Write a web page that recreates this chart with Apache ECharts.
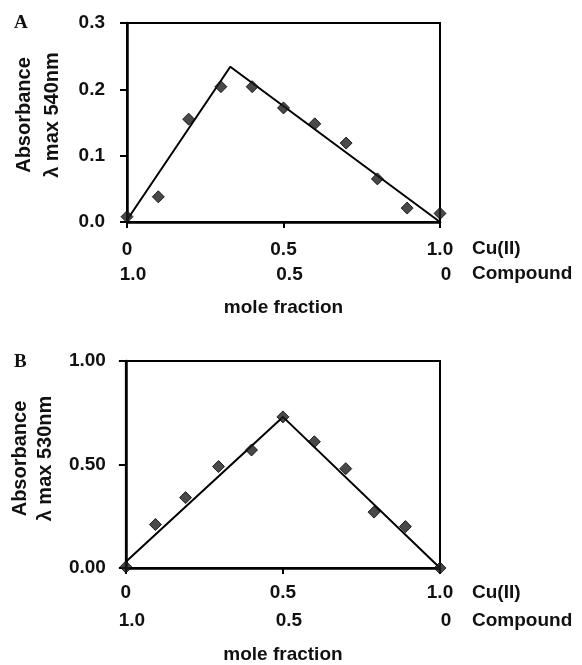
<!DOCTYPE html>
<html>
<head>
<meta charset="utf-8">
<script src="https://cdn.jsdelivr.net/npm/echarts@6/dist/echarts.min.js"></script>
<style>
html,body{margin:0;padding:0;background:#fff;}
#chart{width:582px;height:665px;}
</style>
</head>
<body>
<div id="chart"></div>
<script>
// ---- Data ----
const molFracA = [0, 0.10, 0.197, 0.30, 0.40, 0.50, 0.60, 0.70, 0.80, 0.895, 1.0];
const absA     = [0.008, 0.038, 0.155, 0.204, 0.204, 0.172, 0.148, 0.119, 0.065, 0.021, 0.013];
const fitXA    = [0, 0.33, 1.0];
const fitYA    = [0.003, 0.234, 0];

const molFracB = [0, 0.094, 0.19, 0.295, 0.40, 0.50, 0.60, 0.70, 0.79, 0.89, 1.0];
const absB     = [0.005, 0.21, 0.34, 0.49, 0.57, 0.73, 0.61, 0.48, 0.27, 0.20, 0.0];
const fitXB    = [0, 0.5, 1.0];
const fitYB    = [0.03, 0.73, 0];

const yTicksA = ['0.0', '0.1', '0.2', '0.3'];
const yTicksB = ['0.00', '0.50', '1.00'];
const cuTicks = ['0', '0.5', '1.0'];
const compoundTicks = ['1.0', '0.5', '0'];

const panelLetters = ['A', 'B'];
const yNames = ['Absorbance\nλ max 540nm', 'Absorbance\nλ max 530nm'];
const rowNames = ['Cu(II)', 'Compound'];

// ---- Helpers ----
const FONT = 'Liberation Sans, Arial, sans-serif';
const zip = (xs, ys) => xs.map((x, i) => [x, ys[i]]);
const tickFmt = (labels, interval) => v => labels[Math.round(v / interval)] ?? '';

function xAxes(grid, cfg) {
  // name is pushed down one row height by two leading blank lines
  const rowName = t => '\n\n' + t;
  const nameStyle = { fontFamily: FONT, fontSize: 19, fontWeight: 'bold', color: '#111',
    lineHeight: cfg.rowShift, align: 'left' };
  return [
    { // Cu(II) row
      gridIndex: grid, type: 'value', min: 0, max: 1, interval: 0.5,
      name: rowName(rowNames[0]), nameLocation: 'end', nameGap: 32, nameTextStyle: nameStyle,
      axisLine: { lineStyle: { color: '#000', width: 2.5 } },
      axisTick: { length: 6, lineStyle: { color: '#000', width: 2 } },
      axisLabel: { formatter: tickFmt(cuTicks, 0.5), margin: cfg.rowMargin,
        fontFamily: FONT, fontSize: 19, fontWeight: 'bold', color: '#111' },
      splitLine: { show: false }
    },
    { // Compound row
      gridIndex: grid, type: 'value', min: 0, max: 1, interval: 0.5, position: 'bottom',
      offset: cfg.row2Offset,
      name: rowName(rowNames[1]), nameLocation: 'end', nameGap: 32, nameTextStyle: nameStyle,
      axisLine: { show: false }, axisTick: { show: false },
      axisLabel: { formatter: tickFmt(compoundTicks, 0.5), margin: cfg.rowMargin,
        padding: [0, 0, 0, 12],
        fontFamily: FONT, fontSize: 19, fontWeight: 'bold', color: '#111' },
      splitLine: { show: false }
    },
    { // "mole fraction" title axis
      gridIndex: grid, type: 'value', min: 0, max: 1, position: 'bottom', offset: 0,
      name: 'mole fraction', nameLocation: 'middle', nameGap: cfg.titleGap,
      nameTextStyle: { fontFamily: FONT, fontSize: 19, fontWeight: 'bold', color: '#111' },
      axisLine: { show: false }, axisTick: { show: false }, axisLabel: { show: false },
      splitLine: { show: false }
    }
  ];
}

function yAxis(grid, max, interval, labels, name, cfg) {
  return {
    gridIndex: grid, type: 'value', min: 0, max: max, interval: interval,
    name: name, nameLocation: 'middle', nameGap: cfg.nameGap,
    nameTextStyle: { fontFamily: FONT, fontSize: 20, fontWeight: 'bold', color: '#111',
      lineHeight: cfg.lineHeight, padding: [0, 0, 0, cfg.namePad] },
    axisLine: { lineStyle: { color: '#000', width: 2.5 } },
    axisTick: { length: 7, lineStyle: { color: '#000', width: 2 } },
    axisLabel: { formatter: tickFmt(labels, interval), margin: cfg.labelMargin,
      fontFamily: FONT, fontSize: 19, fontWeight: 'bold', color: '#111' },
    splitLine: { show: false }
  };
}

const markerStyle = { color: '#1c1c1c', borderColor: '#000', borderWidth: 1 };
const letterStyle = { fontFamily: 'Liberation Serif, Times New Roman, serif', fontSize: 19, fontWeight: 'bold', color: '#111' };

const option = {
  animation: false,
  backgroundColor: '#fff',
  title: [
    { text: panelLetters[0], left: 14, top: 14, padding: 0, textStyle: letterStyle },
    { text: panelLetters[1], left: 14, top: 353, padding: 0, textStyle: letterStyle }
  ],
  grid: [
    { left: 127, top: 23, width: 313, height: 199, show: true, borderColor: '#000', borderWidth: 2, backgroundColor: 'transparent' },
    { left: 122, top: 361, width: 318, height: 209, show: true, borderColor: '#000', borderWidth: 2, backgroundColor: 'transparent' }
  ],
  xAxis: [
    ...xAxes(0, { rowMargin: 18, row2Offset: 25, rowShift: 27, titleGap: 76 }),
    ...xAxes(1, { rowMargin: 15, row2Offset: 28, rowShift: 25, titleGap: 77 })
  ],
  yAxis: [
    yAxis(0, 0.3, 0.1, yTicksA, yNames[0], { nameGap: 61, lineHeight: 28, namePad: 15, labelMargin: 22 }),
    yAxis(1, 1.0, 0.5, yTicksB, yNames[1], { nameGap: 64, lineHeight: 25, namePad: 12, labelMargin: 20 })
  ],
  series: [
    { type: 'line', xAxisIndex: 0, yAxisIndex: 0, data: zip(fitXA, fitYA), showSymbol: false, symbol: 'none',
      clip: false, lineStyle: { color: '#000', width: 2 }, z: 2 },
    { type: 'scatter', xAxisIndex: 0, yAxisIndex: 0, data: zip(molFracA, absA), symbol: 'diamond', symbolSize: 12,
      clip: false, itemStyle: markerStyle, z: 3 },
    { type: 'line', xAxisIndex: 3, yAxisIndex: 1, data: zip(fitXB, fitYB), showSymbol: false, symbol: 'none',
      clip: false, lineStyle: { color: '#000', width: 2 }, z: 2 },
    { type: 'scatter', xAxisIndex: 3, yAxisIndex: 1, data: zip(molFracB, absB), symbol: 'diamond', symbolSize: 12,
      clip: false, itemStyle: markerStyle, z: 3 }
  ]
};

const chart = echarts.init(document.getElementById('chart'), null, { renderer: 'canvas' });
chart.setOption(option);
</script>
</body>
</html>
